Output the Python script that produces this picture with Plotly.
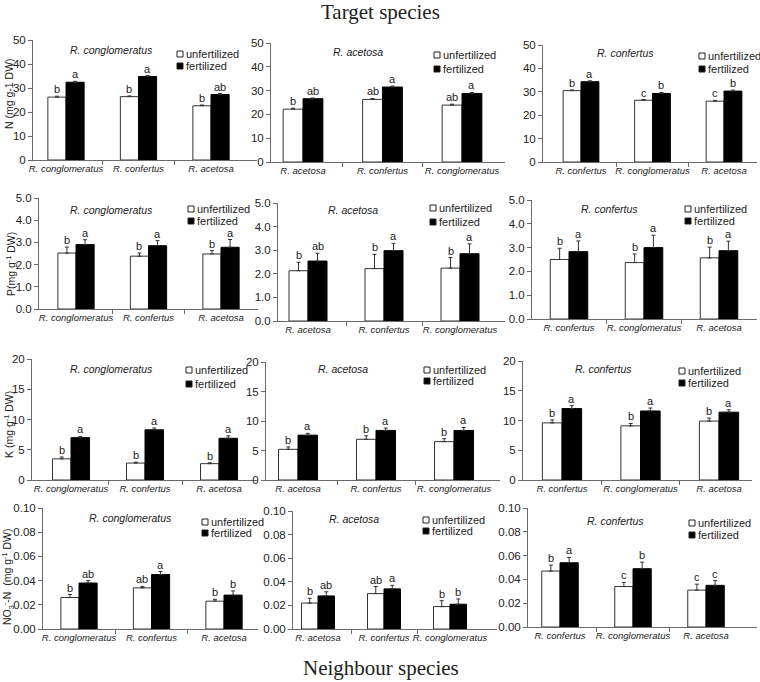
import plotly.graph_objects as go
from plotly.subplots import make_subplots

W, H = 760, 682

# ---------------- data ----------------
TARGETS = ["R. conglomeratus", "R. acetosa", "R. confertus"]
NEIGHBOURS = [
    ["R. conglomeratus", "R. confertus", "R. acetosa"],
    ["R. acetosa", "R. confertus", "R. conglomeratus"],
    ["R. confertus", "R. conglomeratus", "R. acetosa"],
]

# N (mg g-1 DW)
N_unf = [[26.2, 26.4, 22.6], [22.2, 26.3, 23.9], [30.5, 26.4, 26.0]]
N_unf_err = [[0.4, 0.3, 0.3], [0.4, 0.4, 0.4], [0.3, 0.3, 0.3]]
N_fer = [[32.4, 34.8, 27.3], [26.6, 31.5, 28.8], [34.3, 29.3, 30.3]]
N_fer_err = [[0.4, 0.4, 0.4], [0.3, 0.4, 0.4], [0.4, 0.4, 0.4]]
N_unf_let = [["b", "b", "b"], ["b", "ab", "ab"], ["b", "c", "c"]]
N_fer_let = [["a", "a", "ab"], ["ab", "a", "a"], ["a", "b", "b"]]

# P (mg g-1 DW)
P_unf = [[2.52, 2.38, 2.48], [2.13, 2.22, 2.24], [2.50, 2.37, 2.57]]
P_unf_err = [[0.27, 0.14, 0.15], [0.36, 0.60, 0.45], [0.47, 0.36, 0.45]]
P_fer = [[2.90, 2.85, 2.78], [2.54, 2.98, 2.85], [2.83, 3.00, 2.87]]
P_fer_err = [[0.22, 0.23, 0.35], [0.33, 0.31, 0.42], [0.45, 0.52, 0.40]]
P_unf_let = [["b", "b", "b"], ["b", "b", "b"], ["b", "b", "b"]]
P_fer_let = [["a", "a", "a"], ["ab", "a", "a"], ["a", "a", "a"]]

# K (mg g-1 DW)
K_unf = [[3.5, 2.8, 2.7], [5.2, 6.9, 6.5], [9.6, 9.1, 9.9]]
K_unf_err = [[0.3, 0.15, 0.15], [0.4, 0.6, 0.5], [0.5, 0.4, 0.5]]
K_fer = [[7.0, 8.3, 6.9], [7.6, 8.4, 8.4], [12.0, 11.6, 11.4]]
K_fer_err = [[0.2, 0.3, 0.4], [0.3, 0.4, 0.5], [0.5, 0.5, 0.4]]
K_unf_let = [["b", "b", "b"], ["b", "b", "b"], ["b", "b", "b"]]
K_fer_let = [["a", "a", "a"], ["a", "a", "a"], ["a", "a", "a"]]

# NO3- -N (mg g-1 DW)
NO3_unf = [[0.026, 0.034, 0.023], [0.022, 0.030, 0.019], [0.047, 0.034, 0.031]]
NO3_unf_err = [[0.0025, 0.0012, 0.0015], [0.004, 0.006, 0.005], [0.005, 0.0035, 0.005]]
NO3_fer = [[0.038, 0.045, 0.028], [0.028, 0.034, 0.021], [0.054, 0.049, 0.035]]
NO3_fer_err = [[0.002, 0.0025, 0.0035], [0.0035, 0.003, 0.0045], [0.0045, 0.0055, 0.004]]
NO3_unf_let = [["b", "ab", "b"], ["b", "ab", "b"], ["b", "c", "c"]]
NO3_fer_let = [["ab", "a", "b"], ["ab", "a", "b"], ["a", "b", "c"]]

Y_TITLES = ["N (mg g-1 DW)", "P(mg g<sup>-1</sup> DW)", "K (mg g<sup>-1</sup> DW)",
            "NO<sub>3</sub><sup>-</sup>-N  (mg g<sup>-1</sup> DW)"]
Y_RANGES = [50, 5.0, 20, 0.10]
Y_DTICKS = [10, 1.0, 5, 0.02]
Y_FORMATS = ["d", ".1f", "d", ".2f"]

ROWS = [
    (N_unf, N_unf_err, N_fer, N_fer_err, N_unf_let, N_fer_let),
    (P_unf, P_unf_err, P_fer, P_fer_err, P_unf_let, P_fer_let),
    (K_unf, K_unf_err, K_fer, K_fer_err, K_unf_let, K_fer_let),
    (NO3_unf, NO3_unf_err, NO3_fer, NO3_fer_err, NO3_unf_let, NO3_fer_let),
]

# ---------------- layout (pixels) ----------------
PANELS = [
    dict(axis=33, right=257, c0=66, u=72.5, top=40, bottom=160),
    dict(axis=271, right=505, c0=303, u=79.5, top=43, bottom=162),
    dict(axis=543, right=757, c0=581, u=71.5, top=45, bottom=162),
    dict(axis=39, right=258, c0=76, u=72.5, top=198, bottom=309),
    dict(axis=278, right=505, c0=308, u=76, top=203, bottom=321),
    dict(axis=532, right=757, c0=569, u=75, top=200, bottom=319),
    dict(axis=32, right=257, c0=71, u=74, top=359, bottom=480),
    dict(axis=266, right=500, c0=298, u=78, top=362, bottom=480),
    dict(axis=523, right=752, c0=562, u=78.5, top=361, bottom=480),
    dict(axis=43, right=258, c0=79, u=72.5, top=508, bottom=629),
    dict(axis=293, right=497, c0=318, u=66, top=511, bottom=629),
    dict(axis=528, right=757, c0=560, u=73, top=508, bottom=627),
]
PANEL_TITLE_PX = [(112, 50), (358, 52), (625, 53), (112, 210), (353, 210), (609, 209),
                  (112, 369), (343, 369), (603, 369), (130, 518), (354, 519), (615, 521)]
LEGEND_PX = [(177, 54, 66), (434, 55, 69), (699, 56, 69), (188, 209, 221), (430, 208, 222),
             (685, 209, 221), (186, 370, 384), (424, 370, 381), (679, 371, 383),
             (202, 522, 533), (423, 520, 531), (689, 523, 535)]
YTITLE_PX = [(9, 94), (10, 264), (8, 425), (8, 577)]

SANS = "Liberation Sans, Arial, sans-serif"
SERIF = "Liberation Serif, Times New Roman, serif"
AXC = "#6a6a6a"
TXT = "#222222"
BARGAP = 0.5
HALF = (1 - BARGAP) / 4  # half of a single bar width in category units


def fx(px):
    return px / W


def fy(py):
    return 1 - py / H


fig = make_subplots(rows=4, cols=3)
annotations = []
shapes = []

for r, (unf, unf_e, fer, fer_e, unf_l, fer_l) in enumerate(ROWS):
    for c in range(3):
        k = r * 3 + c + 1
        p = PANELS[k - 1]
        cats = NEIGHBOURS[c]
        pos = list(range(len(cats)))  # category index positions
        xr = "x" if k == 1 else f"x{k}"
        yr = "y" if k == 1 else f"y{k}"
        fig.add_trace(go.Bar(
            x=pos, y=unf[c], name="unfertilized", showlegend=False,
            customdata=cats,
            marker=dict(color="white", line=dict(color="#333333", width=1)),
            error_y=dict(type="data", array=unf_e[c], arrayminus=[0] * 3, symmetric=False,
                         color="#333333", thickness=1, width=2),
        ), row=r + 1, col=c + 1)
        fig.add_trace(go.Bar(
            x=pos, y=fer[c], name="fertilized", showlegend=False,
            customdata=cats,
            marker=dict(color="black", line=dict(color="black", width=1)),
            error_y=dict(type="data", array=fer_e[c], arrayminus=[0] * 3, symmetric=False,
                         color="#333333", thickness=1, width=2),
        ), row=r + 1, col=c + 1)

        xa = "xaxis" if k == 1 else f"xaxis{k}"
        ya = "yaxis" if k == 1 else f"yaxis{k}"
        fig.update_layout(**{
            xa: dict(domain=[fx(p["axis"]), fx(p["right"])],
                     range=[(p["axis"] - p["c0"]) / p["u"], (p["right"] - p["c0"]) / p["u"]],
                     tickmode="array", tickvals=pos, ticktext=cats,
                     showline=True, linecolor=AXC, linewidth=1, ticks="",
                     minor=dict(tickmode="array", tickvals=[i + 0.5 for i in pos[:-1]],
                                ticks="outside", ticklen=4, tickcolor=AXC, showgrid=False),
                     showgrid=False, tickangle=0, automargin=False,
                     tickfont=dict(family=SANS, size=9.5, color=TXT, style="italic"),
                     anchor=yr, zeroline=False),
            ya: dict(domain=[fy(p["bottom"]), fy(p["top"])],
                     range=[0, Y_RANGES[r]], dtick=Y_DTICKS[r], tickformat=Y_FORMATS[r],
                     showline=True, linecolor=AXC, linewidth=1, ticks="outside",
                     ticklen=4, tickcolor=AXC, showgrid=False, zeroline=False,
                     automargin=False,
                     tickfont=dict(family=SANS, size=11.5, color=TXT), anchor=xr),
        })

        # significance letters
        for i in pos:
            for val, err, lab, sgn in ((unf[c][i], unf_e[c][i], unf_l[c][i], -1),
                                       (fer[c][i], fer_e[c][i], fer_l[c][i], 1)):
                annotations.append(dict(
                    x=i + sgn * HALF, y=val + err, xref=xr, yref=yr, text=lab,
                    showarrow=False, yanchor="bottom", xanchor="center", yshift=-1,
                    font=dict(family=SANS, size=11, color=TXT)))

        # panel title (target species)
        tx, ty = PANEL_TITLE_PX[k - 1]
        annotations.append(dict(x=fx(tx), y=fy(ty), xref="paper", yref="paper",
                                text=TARGETS[c], showarrow=False, xanchor="center",
                                yanchor="middle",
                                font=dict(family=SANS, size=10.5, color=TXT, style="italic")))

        # legend
        lx, ly1, ly2 = LEGEND_PX[k - 1]
        for yc, fill, label in ((ly1, "white", "unfertilized"), (ly2, "black", "fertilized")):
            shapes.append(dict(type="rect", xref="paper", yref="paper",
                               x0=fx(lx), x1=fx(lx + 6), y0=fy(yc + 3), y1=fy(yc - 3),
                               fillcolor=fill, line=dict(color="#222222", width=1)))
            annotations.append(dict(x=fx(lx + 7), y=fy(yc), xref="paper", yref="paper",
                                    text=label, showarrow=False, xanchor="left",
                                    yanchor="middle",
                                    font=dict(family=SANS, size=11, color=TXT)))

# y-axis titles
for r in range(4):
    tx, ty = YTITLE_PX[r]
    annotations.append(dict(x=fx(tx), y=fy(ty), xref="paper", yref="paper",
                            text=Y_TITLES[r], textangle=-90, showarrow=False,
                            xanchor="center", yanchor="middle",
                            font=dict(family=SANS, size=10.5, color=TXT)))

# figure titles
annotations.append(dict(x=fx(381), y=fy(12), xref="paper", yref="paper",
                        text="Target species", showarrow=False, xanchor="center",
                        yanchor="middle", font=dict(family=SERIF, size=21, color=TXT)))
annotations.append(dict(x=fx(381), y=fy(668), xref="paper", yref="paper",
                        text="Neighbour species", showarrow=False, xanchor="center",
                        yanchor="middle", font=dict(family=SERIF, size=21, color=TXT)))

fig.update_layout(
    width=W, height=H, margin=dict(l=0, r=0, t=0, b=0),
    paper_bgcolor="white", plot_bgcolor="white",
    barmode="group", bargap=BARGAP, bargroupgap=0,
    showlegend=False, annotations=annotations, shapes=shapes,
)

fig.write_html(
    "out.html",
    config={"displayModeBar": False},
    post_script="document.body.style.margin='0';document.body.style.overflow='hidden';",
)
